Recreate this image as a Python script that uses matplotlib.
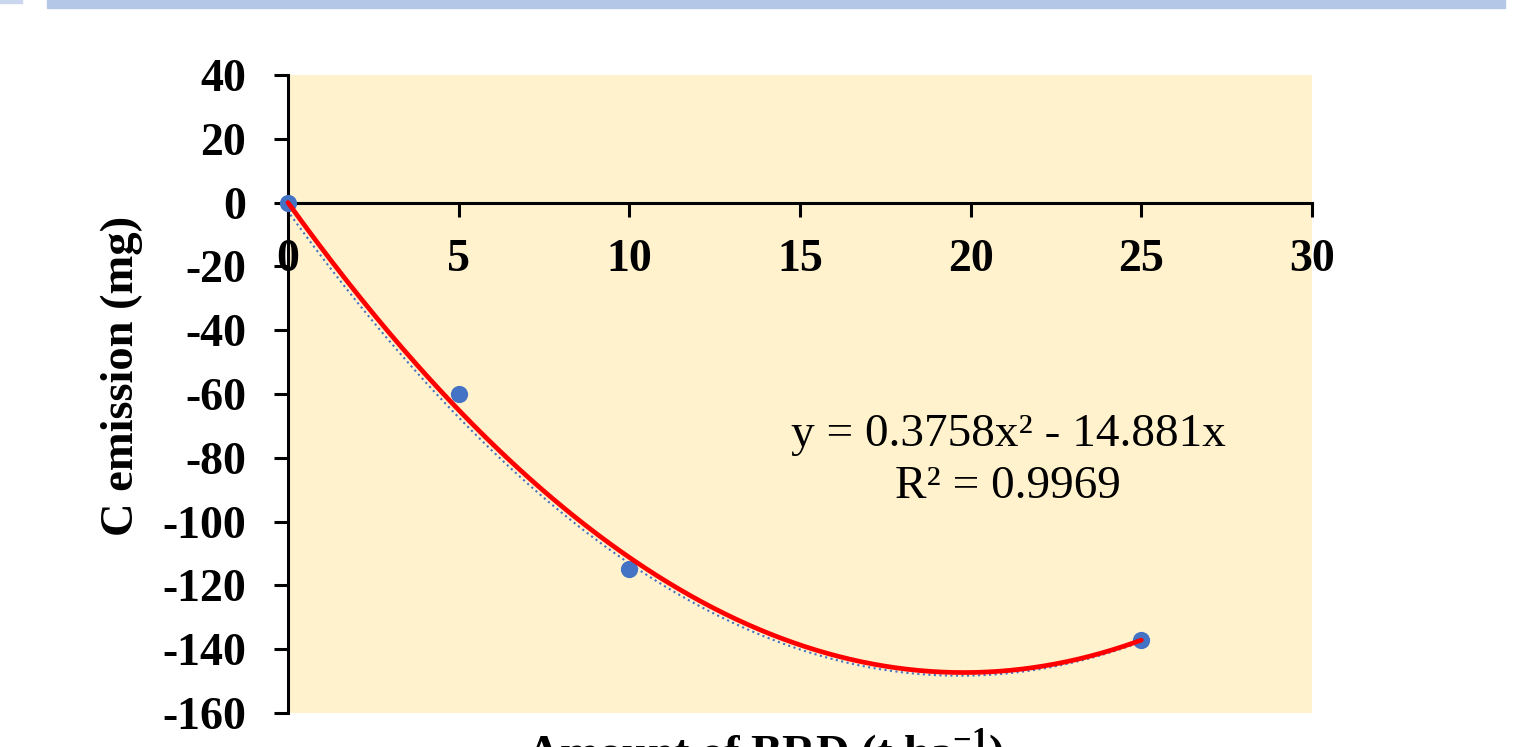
import numpy as np
import matplotlib.pyplot as plt
from matplotlib.patches import Rectangle

# BRD application rates (t/ha) and measured C emission (mg)
brd_rate = [0, 5, 10, 25]
c_emission = [0, -60, -115, -137]

# quadratic trend reported for the series
coef_a = 0.3758
coef_b = -14.881
r_squared = 0.9969

x_ticks = [0, 5, 10, 15, 20, 25, 30]
y_ticks = [40, 20, 0, -20, -40, -60, -80, -100, -120, -140, -160]

plt.rcParams['font.family'] = ['Liberation Serif', 'DejaVu Serif']
plt.rcParams['axes.unicode_minus'] = False
plt.rcParams['mathtext.fontset'] = 'custom'
plt.rcParams['mathtext.rm'] = 'Liberation Serif'
plt.rcParams['mathtext.bf'] = 'Liberation Serif:bold'

W, H = 1534, 747
fig = plt.figure(figsize=(W / 100, H / 100), dpi=100)
ax = fig.add_axes([288 / W, 1 - 713 / H, (1312 - 288) / W, (713 - 75) / H])
ax.set_facecolor('#FFF2CC')

# axis lines: x axis runs along y = 0
ax.spines['top'].set_visible(False)
ax.spines['right'].set_visible(False)
ax.spines['bottom'].set_position(('data', 0))
ax.spines['bottom'].set_linewidth(2.2)
ax.spines['left'].set_linewidth(2.2)

# top banner strips
fig.patches.append(Rectangle((47 / W, 1 - 8 / H), (1505 - 47) / W, 8 / H,
                             transform=fig.transFigure, color='#B4C7E7', zorder=0))
fig.patches.append(Rectangle((0, 1 - 3 / H), 22 / W, 3 / H,
                             transform=fig.transFigure, color='#C9D6EE', zorder=0))

xs = np.linspace(0, 25, 300)
fit = coef_a * xs ** 2 + coef_b * xs
ax.plot(xs - 0.12, fit - 1.0, color='#4472C4', lw=1.5, ls=':', zorder=2, clip_on=False)
ax.scatter(brd_rate, c_emission, s=130, color='#4472C4', zorder=3, clip_on=False)
ax.plot(xs, fit, color='#FF0000', lw=3.4, zorder=4, solid_capstyle='round', clip_on=False)

ax.set_xlim(0, 30)
ax.set_ylim(-160, 40)
ax.set_xticks(x_ticks)
ax.set_yticks(y_ticks)
ax.tick_params(axis='x', direction='out', length=10, width=2.2, pad=16, labelsize=33)
ax.tick_params(axis='y', direction='out', length=10, width=2.2, pad=20, labelsize=33)
for lab in ax.get_xticklabels() + ax.get_yticklabels():
    lab.set_fontweight('bold')

ax.text(21.1, -81, f'y = {coef_a}x² - {abs(coef_b)}x\nR² = {r_squared}',
        fontsize=34, ha='center', va='center', linespacing=1.3)

fig.text(122 / W, 1 - 376 / H, 'C emission (mg)', rotation=90, fontsize=33.5,
         fontweight='bold', ha='center', va='center')
fig.text(765 / W, 1 - 768 / H, r'Amount of BRD (t ha$^{\mathbf{-1}}$)', fontsize=33.5,
         fontweight='bold', ha='center', va='baseline')

fig.savefig('out.png', dpi=100)
